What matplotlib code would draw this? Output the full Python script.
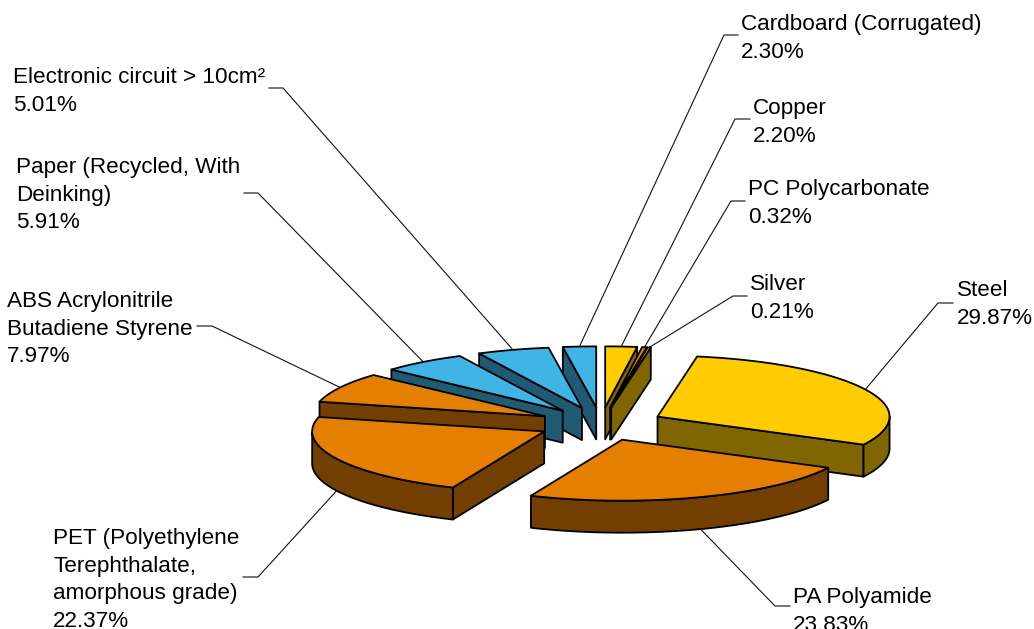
import numpy as np
import matplotlib
matplotlib.use("Agg")
import matplotlib.pyplot as plt
from matplotlib.patches import Polygon

plt.rcParams['font.family'] = ['Liberation Sans', 'DejaVu Sans']

materials = ["Copper", "PC Polycarbonate", "Silver", "Steel", "PA Polyamide",
             "PET (Polyethylene\nTerephthalate,\namorphous grade)",
             "ABS Acrylonitrile\nButadiene Styrene",
             "Paper (Recycled, With\nDeinking)",
             "Electronic circuit > 10cm\u00b2", "Cardboard (Corrugated)"]
shares = [2.20, 0.32, 0.21, 29.87, 23.83, 22.37, 7.97, 5.91, 5.01, 2.30]
tops = ["#FFCC00", "#E57F00", "#FFCC00", "#FFCC00", "#E57F00", "#E57F00", "#E57F00",
        "#41B4E6", "#41B4E6", "#41B4E6"]
walls = ["#806600", "#733F00", "#806600", "#806600", "#733F00", "#733F00", "#733F00",
         "#215A73", "#215A73", "#215A73"]
draw_order = [9, 8, 7, 6, 0, 1, 2, 3, 5, 4]
# label left x, first-line baseline y
label_xy = [(753, 114), (748, 195), (750, 290), (957, 296), (793, 603),
            (53, 544), (7, 307), (16, 173), (13, 83), (741, 30)]
# leader elbow, leader end near the text
elbows = [((735, 119), (750, 119)), ((731, 201), (745, 201)), ((733, 296), (747, 296)),
          ((938, 303), (953, 303)), ((775, 606), (790, 606)), ((258, 577), (243, 577)),
          ((212, 326), (197, 326)), ((258, 193), (244, 193)), ((283, 88), (269, 88)),
          ((724, 35), (738, 35))]

CX, CY, A, B, DEPTH, EXPL = 600.8, 424.0, 232.0, 61.0, 32.0, 0.273
LH = 27.6

fig = plt.figure(figsize=(10.34, 6.29), dpi=100)
ax = fig.add_axes([0, 0, 1, 1])
ax.set_xlim(0, 1034)
ax.set_ylim(629, 0)
ax.axis("off")


def pt(o, deg):
    t = np.radians(deg)
    return np.array([o[0] + A * np.sin(t), o[1] - B * np.cos(t)])


edges = np.concatenate([[0], np.cumsum(shares)]) / sum(shares) * 360
solids = []
for i, (s, e) in enumerate(zip(edges[:-1], edges[1:])):
    mid = (s + e) / 2
    t = np.radians(mid)
    apex = np.array([CX + EXPL * A * np.sin(t), CY - EXPL * B * np.cos(t)])
    solids.append((apex, s, e, mid))
    p = pt(apex, mid)
    # front-facing part of the rim: leader ends on the wall's lower edge
    if 90 < mid < 270:
        p = p + [0, DEPTH]
    far, near = elbows[i]
    ax.plot([p[0], far[0], near[0]], [p[1], far[1], near[1]], color="#111111", lw=0.8, zorder=1)
    lines = materials[i].split("\n")
    lx, ly = label_xy[i]
    for k, line in enumerate(lines + [f"{shares[i]:.2f}%"]):
        ax.text(lx, ly + k * LH, line, fontsize=16.2, color="black", ha="left", va="baseline", zorder=5)

down = np.array([0, DEPTH])
z = 2
style = dict(closed=True, ec="black", lw=1.3, joinstyle="round")
for i in draw_order:
    apex, s, e, mid = solids[i]
    degs = np.linspace(s, e, 80)
    arc = np.array([pt(apex, d) for d in degs])
    # only the walls that face the viewer
    if 180 <= s < 360:
        q = [apex, arc[0], arc[0] + down, apex + down]
        ax.add_patch(Polygon(q, fc=walls[i], zorder=z, **style))
    if 0 < e <= 180:
        q = [apex, arc[-1], arc[-1] + down, apex + down]
        ax.add_patch(Polygon(q, fc=walls[i], zorder=z, **style))
    vis = degs[(degs >= 90) & (degs <= 270)]
    if len(vis):
        r = np.array([pt(apex, d) for d in vis])
        ax.add_patch(Polygon(np.vstack([r, (r + down)[::-1]]), fc=walls[i], zorder=z, **style))
    ax.add_patch(Polygon(np.vstack([[apex], arc]), fc=tops[i], zorder=z, **style))
    z += 0.01

fig.savefig("out.png", dpi=100)
